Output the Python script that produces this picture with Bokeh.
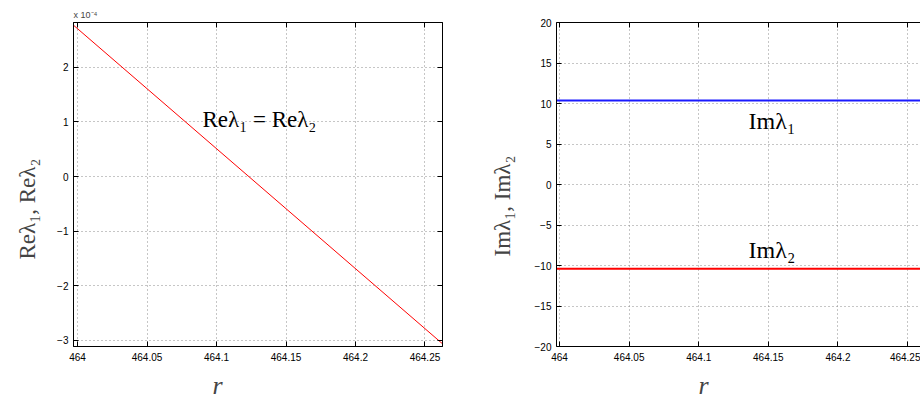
import math
from bokeh.plotting import figure
from bokeh.models import Range1d, FixedTicker, LinearAxis, Label, Title, CustomJSTickFormatter
from bokeh.layouts import row
from bokeh.embed import file_html
from bokeh.resources import INLINE

# ---- data ----
r_re = [463.9971, 464.2626]          # r values, left panel
re_lambda_e4 = [2.77, -3.06]         # Re(lambda1) = Re(lambda2), units of 1e-4
r_im = [463.9978, 464.2593]          # r values, right panel (cut at window edge)
im_lambda1 = [10.37, 10.37]
im_lambda2 = [-10.40, -10.40]

x_ticks = [464, 464.05, 464.1, 464.15, 464.2, 464.25]
re_ticks = [-3, -2, -1, 0, 1, 2]
im_ticks = [-20, -15, -10, -5, 0, 5, 10, 15, 20]
re_ylim = [-3.11, 2.82]
im_ylim = [-20, 20]

SERIF = "Liberation Serif"
SANS = "Liberation Sans"

fmt_code = "return String(tick).replace('-', '\u2212');"
blank_code = "return '';"


def style(p, xt, yt, right_axis=True):
    p.xaxis.ticker = FixedTicker(ticks=xt)
    p.yaxis.ticker = FixedTicker(ticks=yt)
    p.xgrid.ticker = FixedTicker(ticks=xt)
    p.ygrid.ticker = FixedTicker(ticks=yt)
    for ax in (p.xaxis[0], p.yaxis[0]):
        ax.formatter = CustomJSTickFormatter(code=fmt_code)
        ax.major_label_text_font = SANS
        ax.major_label_text_font_size = "10px"
        ax.major_label_text_color = "black"
        ax.axis_line_color = "black"
        ax.axis_line_width = 1
        ax.major_tick_in = 5
        ax.major_tick_out = 0
        ax.major_tick_line_color = "black"
        ax.minor_tick_line_color = None
    p.xaxis.major_label_standoff = 6
    p.yaxis.major_label_standoff = 5
    for g in (p.xgrid[0], p.ygrid[0]):
        g.grid_line_color = "#8c8c8c"
        g.grid_line_dash = "1 3"
        g.grid_line_width = 1
    top = LinearAxis(ticker=FixedTicker(ticks=xt), formatter=CustomJSTickFormatter(code=blank_code),
                     major_tick_in=5, major_tick_out=0, minor_tick_line_color=None,
                     axis_line_color="black", major_label_standoff=0)
    p.add_layout(top, "above")
    if right_axis:
        rt = LinearAxis(ticker=FixedTicker(ticks=yt), formatter=CustomJSTickFormatter(code=blank_code),
                        major_tick_in=5, major_tick_out=0, minor_tick_line_color=None,
                        axis_line_color="black", major_label_standoff=0)
        p.add_layout(rt, "right")


def side_titles(p, ylab, ylab_offset, ylab_standoff, xlab_offset):
    p.add_layout(Title(text=ylab, text_font=SERIF, text_font_size="23px",
                       text_font_style="normal", align="left", offset=ylab_offset,
                       vertical_align="top", standoff=ylab_standoff), "left")
    p.add_layout(Title(text="r", text_font=SERIF, text_font_size="26px",
                       text_font_style="italic", align="left", offset=xlab_offset,
                       standoff=11), "below")


# ---- left panel ----
p1 = figure(width=470, height=405, title=None, output_backend="svg", toolbar_location=None,
            x_range=Range1d(r_re[0], r_re[-1]), y_range=Range1d(re_ylim[0], re_ylim[1]),
            min_border_left=73, min_border_right=28, min_border_top=22, min_border_bottom=58)
p1.outline_line_color = "black"
p1.background_fill_color = "white"
p1.border_fill_color = "white"
style(p1, x_ticks, re_ticks, right_axis=True)
p1.line(r_re, re_lambda_e4, line_color="#ff0000", line_width=1)

p1.add_layout(Label(x=464.0899, y=1.04, text="Reλ₁ = Reλ₂", text_font=SERIF,
                    text_font_size="23px", text_color="black",
                    text_align="left", text_baseline="alphabetic"))
side_titles(p1, "Reλ₁, Reλ₂", 87, 25, 139)
p1.add_layout(Title(text="x 10⁻⁴", text_font=SANS, text_font_size="9px",
                    text_font_style="normal", align="left", offset=0, standoff=5), "above")

# ---- right panel ----
p2 = figure(width=450, height=405, title=None, output_backend="svg", toolbar_location=None,
            x_range=Range1d(r_im[0], r_im[-1]), y_range=Range1d(im_ylim[0], im_ylim[1]),
            min_border_left=86, min_border_right=0, min_border_top=22, min_border_bottom=57)
p2.outline_line_color = None
p2.background_fill_color = "white"
p2.border_fill_color = "white"
style(p2, x_ticks, im_ticks, right_axis=False)
p2.line(r_im, im_lambda1, line_color="#1a1aff", line_width=2)
p2.line(r_im, im_lambda2, line_color="#ff0000", line_width=2)

p2.add_layout(Label(x=464.1358, y=7.79, text="Imλ₁", text_font=SERIF,
                    text_font_size="24px", text_color="black",
                    text_align="left", text_baseline="alphabetic"))
p2.add_layout(Label(x=464.1358, y=-8.07, text="Imλ₂", text_font=SERIF,
                    text_font_size="24px", text_color="black",
                    text_align="left", text_baseline="alphabetic"))
side_titles(p2, "Imλ₁, Imλ₂", 90, 30, 142)

layout = row(p1, p2)
open("out.html", "w").write(file_html(layout, INLINE))
